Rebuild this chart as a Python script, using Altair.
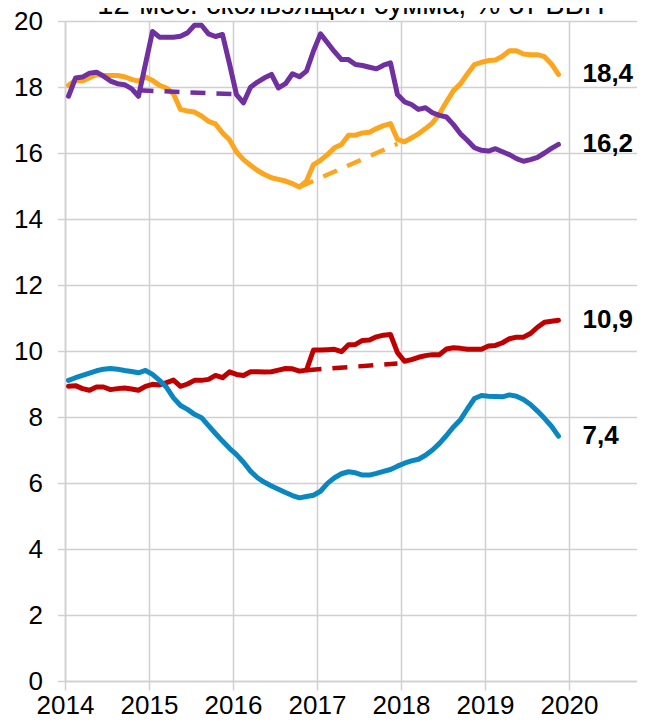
import altair as alt
import pandas as pd

FONT = "Liberation Sans"
start_year = 2014

orange = [18.05, 18.2, 18.18, 18.28, 18.38, 18.35, 18.35, 18.35, 18.31, 18.23, 18.18, 18.3,
          18.2, 18.05, 17.97, 17.79, 17.32, 17.27, 17.24, 17.12, 16.96, 16.88, 16.61, 16.4,
          16.03, 15.8, 15.63, 15.47, 15.35, 15.25, 15.2, 15.15, 15.07, 14.97, 15.15, 15.65,
          15.78, 15.95, 16.16, 16.26, 16.54, 16.54, 16.61, 16.63, 16.74, 16.83, 16.89, 16.41,
          16.34, 16.46, 16.58, 16.74, 16.91, 17.19, 17.55, 17.89, 18.1, 18.4, 18.68, 18.75,
          18.8, 18.82, 18.93, 19.1, 19.1, 19.0, 18.98, 18.98, 18.92, 18.7, 18.38]
purple = [17.72, 18.27, 18.3, 18.42, 18.45, 18.33, 18.18, 18.1, 18.07, 17.95, 17.72, 18.7,
          19.68, 19.51, 19.51, 19.51, 19.54, 19.64, 19.87, 19.87, 19.61, 19.53, 19.59, 18.7,
          17.77, 17.52, 17.99, 18.15, 18.28, 18.38, 17.97, 18.1, 18.4, 18.31, 18.48, 19.09,
          19.61, 19.34, 19.07, 18.83, 18.83, 18.68, 18.65, 18.6, 18.55, 18.66, 18.73, 17.77,
          17.55, 17.47, 17.32, 17.37, 17.22, 17.14, 17.09, 16.86, 16.58, 16.38, 16.16, 16.08,
          16.06, 16.13, 16.04, 15.95, 15.83, 15.75, 15.8, 15.87, 16.0, 16.14, 16.26]
red = [8.93, 8.95, 8.86, 8.81, 8.91, 8.91, 8.83, 8.86, 8.88, 8.85, 8.81, 8.93,
       8.99, 8.97, 9.04, 9.12, 8.93, 9.0, 9.11, 9.11, 9.14, 9.26, 9.19, 9.37,
       9.29, 9.26, 9.37, 9.37, 9.36, 9.37, 9.42, 9.47, 9.46, 9.39, 9.42, 10.03,
       10.03, 10.04, 10.05, 9.98, 10.19, 10.2, 10.32, 10.33, 10.43, 10.48, 10.5, 9.95,
       9.69, 9.74, 9.81, 9.86, 9.89, 9.89, 10.06, 10.1, 10.08, 10.05, 10.05, 10.05,
       10.15, 10.17, 10.25, 10.37, 10.42, 10.42, 10.53, 10.72, 10.87, 10.9, 10.93]
blue = [9.11, 9.19, 9.26, 9.33, 9.4, 9.45, 9.47, 9.45, 9.41, 9.38, 9.34, 9.41,
        9.29, 9.11, 8.9, 8.58, 8.35, 8.23, 8.08, 7.98, 7.74, 7.5, 7.27, 7.05,
        6.86, 6.63, 6.36, 6.16, 6.02, 5.91, 5.81, 5.71, 5.62, 5.55, 5.59, 5.63,
        5.75, 5.99, 6.16, 6.28, 6.34, 6.31, 6.24, 6.24, 6.29, 6.35, 6.41, 6.51,
        6.6, 6.67, 6.72, 6.84, 7.0, 7.2, 7.44, 7.7, 7.92, 8.25, 8.56, 8.65,
        8.63, 8.62, 8.61, 8.67, 8.63, 8.53, 8.38, 8.18, 7.96, 7.72, 7.42]

series_names = ["orange", "purple", "red", "blue"]
series_colors = ["#FCA61F", "#7030A0", "#C00000", "#0A87C0"]
series_values = [orange, purple, red, blue]
end_labels = ["18,4", "16,2", "10,9", "7,4"]

dash_names = ["purple_d", "orange_d", "red_d"]
dash_colors = ["#7030A0", "#FCA61F", "#C00000"]
dash_start_idx = [10, 33, 34]
dash_end_idx = [24, 47, 47]
dash_start_val = [17.9, 14.97, 9.42]
dash_end_val = [17.78, 16.28, 9.62]

title_text = "12-мес. скользящая сумма, % от ВВП"
year_ticks = [2014, 2015, 2016, 2017, 2018, 2019, 2020]
y_ticks = [0, 2, 4, 6, 8, 10, 12, 14, 16, 18, 20]


def t_of(i):
    return start_year + (i + 0.5) / 12


GRID = "#d0d0d0"
x_enc = alt.X("t:Q", scale=alt.Scale(domain=[2014, 2020.81], nice=False, zero=False),
              axis=alt.Axis(values=year_ticks, format="d", title=None, labelFont=FONT,
                            labelFontSize=26, labelColor="#000", tickSize=9, tickColor=GRID,
                            tickWidth=1.5, domainColor=GRID, domainWidth=1.5, gridColor=GRID,
                            gridWidth=1.5, labelPadding=2, labelFlush=False,
                            labelOverlap=False))
y_enc = alt.Y("v:Q", scale=alt.Scale(domain=[0, 20], nice=False),
              axis=alt.Axis(values=y_ticks, title=None, labelFont=FONT, labelFontSize=26,
                            labelColor="#000", tickSize=7.5, tickColor=GRID, tickWidth=1.5,
                            domainColor=GRID, domainWidth=1.5, gridColor=GRID, gridWidth=1.5,
                            labelPadding=15))

layers = []
for name, col, vals in zip(series_names, series_colors, series_values):
    df = pd.DataFrame({"t": [t_of(i) for i in range(len(vals))], "v": vals})
    layers.append(
        alt.Chart(df).mark_line(color=col, strokeWidth=5, strokeCap="round",
                                strokeJoin="round").encode(x=x_enc, y=y_enc)
    )

dash_rows = []
for nm, i0, i1, v0, v1 in zip(dash_names, dash_start_idx, dash_end_idx, dash_start_val, dash_end_val):
    dash_rows.append({"s": nm, "t": t_of(i0), "v": v0})
    dash_rows.append({"s": nm, "t": t_of(i1), "v": v1})
dash_df = pd.DataFrame(dash_rows)
dashes = alt.Chart(dash_df).mark_line(strokeWidth=4.5, strokeDash=[15, 11]).encode(
    x=x_enc, y=y_enc,
    color=alt.Color("s:N", scale=alt.Scale(domain=dash_names, range=dash_colors), legend=None),
)

lab_df = pd.DataFrame({
    "t": [t_of(len(v) - 1) for v in series_values],
    "v": [v[-1] for v in series_values],
    "lab": end_labels,
})
labels = alt.Chart(lab_df).mark_text(align="left", baseline="middle", dx=24, fontSize=26,
                                     fontWeight="bold", font=FONT, color="#000").encode(
    x=x_enc, y=y_enc, text="lab:N")

title_df = pd.DataFrame({"txt": [title_text]})
title = alt.Chart(title_df).mark_text(align="center", baseline="alphabetic", fontSize=29,
                                      font=FONT, color="#000").encode(
    x=alt.value(286), y=alt.value(-7), text="txt:N")

chart = alt.layer(*layers, dashes, labels, title).properties(
    width=572, height=660,
    autosize=alt.AutoSizeParams(type="none"),
    padding={"left": 57, "top": 13, "right": 0, "bottom": 38},
).configure_view(stroke=None).configure(background="white")

chart.save("out.html", embed_options={"renderer": "svg", "actions": False})
